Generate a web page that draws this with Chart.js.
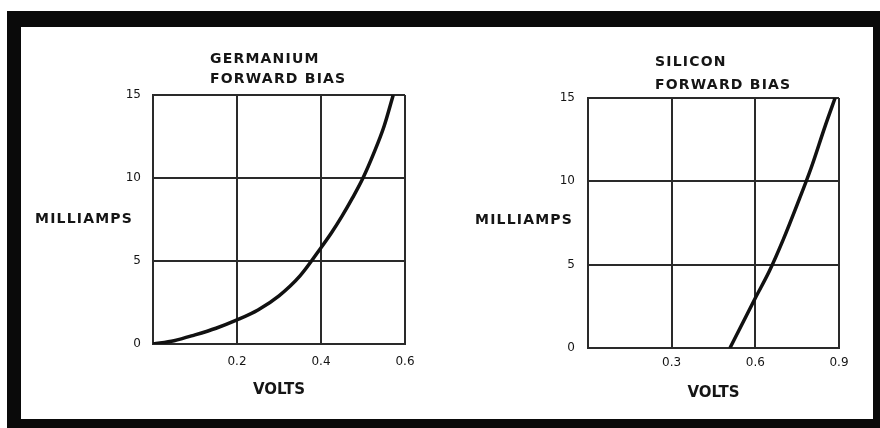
<!DOCTYPE html>
<html>
<head>
<meta charset="utf-8">
<title>Diode forward bias</title>
<script src="https://cdn.jsdelivr.net/npm/chart.js@4.4.1/dist/chart.umd.min.js"></script>
<style>
  html, body { margin: 0; padding: 0; background: #fff; }
  body { width: 880px; height: 428px; position: relative; overflow: hidden; }
  .frame {
    position: absolute; left: 7px; top: 11px; width: 873px; height: 417px;
    box-sizing: border-box; border-style: solid; border-color: #0a0a0a;
    border-width: 16px 7px 9px 14px;
  }
  canvas { position: absolute; top: 27px; }
  #geChart { left: 21px; }
  #siChart { left: 440px; }
</style>
</head>
<body>
<div class="frame"></div>
<canvas id="geChart" width="419" height="392"></canvas>
<canvas id="siChart" width="433" height="392"></canvas>
<script>
// germanium diode, forward bias
const geVolts = [0, 0.05, 0.1, 0.15, 0.2, 0.25, 0.3, 0.35, 0.4, 0.425, 0.45, 0.475, 0.5, 0.525, 0.55, 0.572];
const geMilliamps = [0, 0.2, 0.55, 0.95, 1.45, 2.05, 2.9, 4.1, 5.8, 6.7, 7.7, 8.8, 10.0, 11.45, 13.1, 15.0];
const geVoltTicks = [0, 0.2, 0.4, 0.6];

// silicon diode, forward bias
const siVolts = [0.509, 0.55, 0.6, 0.65, 0.7, 0.75, 0.8, 0.85, 0.886];
const siMilliamps = [0, 1.35, 3.0, 4.6, 6.5, 8.6, 10.8, 13.3, 15.0];
const siVoltTicks = [0, 0.3, 0.6, 0.9];

const mATicks = [0, 5, 10, 15];

const INK = '#151515';
const GRID = '#2a2a2a';
const FONT = "'DejaVu Sans', sans-serif";

// title block and the horizontal MILLIAMPS label, spaced out like the print
const captions = {
  id: 'captions',
  afterDraw(chart, args, opts) {
    const ctx = chart.ctx;
    ctx.save();
    ctx.fillStyle = INK;
    ctx.textAlign = 'left';
    ctx.textBaseline = 'alphabetic';
    if ('letterSpacing' in ctx) ctx.letterSpacing = opts.spacing + 'px';
    ctx.font = 'bold ' + opts.size + 'px ' + FONT;
    opts.title.forEach((line, i) => ctx.fillText(line, opts.titleX, opts.titleY[i]));
    ctx.fillText(opts.yLabel, opts.yLabelX, opts.yLabelY);
    ctx.restore();
  }
};

function makeChart(id, volts, milliamps, voltTicks, box) {
  const points = volts.map((v, i) => ({ x: v, y: milliamps[i] }));
  const gridOpts = { color: GRID, lineWidth: 2, drawTicks: false };
  const borderOpts = { color: GRID, width: 2 };

  return new Chart(document.getElementById(id), {
    type: 'scatter',
    data: {
      datasets: [{
        data: points,
        showLine: true,
        pointRadius: 0,
        borderColor: '#111',
        borderWidth: 3.5,
        cubicInterpolationMode: 'monotone'
      }]
    },
    options: {
      responsive: false,
      animation: false,
      events: [],
      layout: { padding: box.padding },
      plugins: {
        legend: { display: false },
        tooltip: { enabled: false },
        captions: box.captions
      },
      scales: {
        x: {
          type: 'linear',
          min: 0,
          max: voltTicks[voltTicks.length - 1],
          afterBuildTicks: s => { s.ticks = voltTicks.map(v => ({ value: v })); },
          afterFit: s => { s.height = box.xHeight; },
          grid: gridOpts,
          border: borderOpts,
          ticks: {
            padding: box.xPad,
            color: INK,
            font: { family: FONT, size: 12 },
            maxRotation: 0,
            autoSkip: false,
            callback: v => v === 0 ? '' : v.toFixed(1)
          },
          title: {
            display: true,
            text: 'VOLTS',
            color: INK,
            font: { family: FONT, size: 15, weight: 'bold' },
            padding: { top: 0, bottom: box.voltsPad }
          }
        },
        y: {
          type: 'linear',
          min: 0,
          max: 15,
          afterBuildTicks: s => { s.ticks = mATicks.map(v => ({ value: v })); },
          afterFit: s => { s.width = box.yWidth; },
          grid: gridOpts,
          border: borderOpts,
          ticks: {
            padding: box.yPad,
            color: INK,
            font: { family: FONT, size: 12 },
            callback: v => String(v)
          }
        }
      }
    },
    plugins: [captions]
  });
}

makeChart('geChart', geVolts, geMilliamps, geVoltTicks, {
  padding: { left: 0, top: 68, right: 35, bottom: 0 },
  yWidth: 132, xHeight: 75, xPad: 11, yPad: 12, voltsPad: 20,
  captions: {
    title: ['GERMANIUM', 'FORWARD BIAS'],
    titleX: 189, titleY: [35.7, 56.3],
    yLabel: 'MILLIAMPS', yLabelX: 14, yLabelY: 196.3,
    size: 14, spacing: 1.2
  }
});

makeChart('siChart', siVolts, siMilliamps, siVoltTicks, {
  padding: { left: 0, top: 71, right: 34, bottom: 0 },
  yWidth: 148, xHeight: 71, xPad: 8, yPad: 13, voltsPad: 17,
  captions: {
    title: ['SILICON', 'FORWARD BIAS'],
    titleX: 215, titleY: [38.7, 62.3],
    yLabel: 'MILLIAMPS', yLabelX: 35, yLabelY: 197,
    size: 14, spacing: 1.2
  }
});
</script>
</body>
</html>
